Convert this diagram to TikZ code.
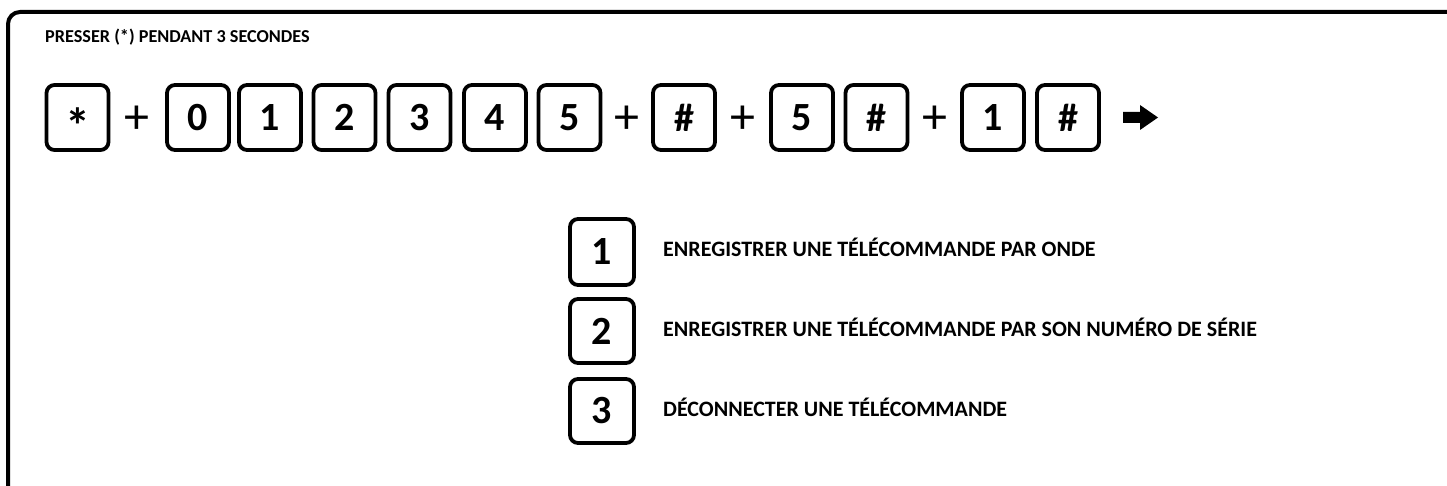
\documentclass[tikz,border=0pt]{standalone}
\usepackage{fontspec}
\setmainfont{Carlito}
\begin{document}
\begin{tikzpicture}[x=1pt,y=-1pt,
  keybox/.style={draw, line width=3.8pt, rounded corners=8pt, minimum width=62pt, minimum height=65pt, inner sep=0pt, font=\fontsize{40}{40}\selectfont\bfseries},
  plussign/.style={inner sep=0pt, font=\fontsize{50}{50}\selectfont},
  label/.style={anchor=base west, inner sep=0pt, font=\fontsize{22}{22}\selectfont\bfseries},
  titletext/.style={anchor=base west, inner sep=0pt, font=\fontsize{18.2}{18.2}\selectfont\bfseries}]
\useasboundingbox (0,0) rectangle (1447,486);
% outer frame
\draw[line width=4pt, rounded corners=12pt] (8,490) -- (8,12) -- (1450,12);
\node[titletext] (title) at (45,43) {PRESSER (*) PENDANT 3 SECONDES};
% key row
\node[keybox] (k1) at (77.5,117.5) {\fontsize{50}{50}\selectfont\smash{\raisebox{-0.52em}{*}}};
\node[plussign] (p1) at (137,119.5) {+};
\node[keybox] (k2) at (198,117.5) {0};
\node[keybox] (k3) at (270,117.5) {1};
\node[keybox] (k4) at (344.5,117.5) {2};
\node[keybox] (k5) at (419.5,117.5) {3};
\node[keybox] (k6) at (495,117.5) {4};
\node[keybox] (k7) at (569.5,117.5) {5};
\node[plussign] (p2) at (627,119.5) {+};
\node[keybox] (k8) at (684,117.5) {\#};
\node[plussign] (p3) at (743,119.5) {+};
\node[keybox] (k9) at (802,117.5) {5};
\node[keybox] (k10) at (876.5,117.5) {\#};
\node[plussign] (p4) at (935,119.5) {+};
\node[keybox] (k11) at (993,117.5) {1};
\node[keybox] (k12) at (1068,117.5) {\#};
% arrow
\fill (1123,112) -- (1140,112) -- (1140,105) -- (1158,117.5) -- (1140,130) -- (1140,123) -- (1123,123) -- cycle;
% menu
\node[keybox, minimum width=64pt, minimum height=66pt] (m1) at (602,252) {1};
\node[keybox, minimum width=64pt, minimum height=64pt] (m2) at (602,331) {2};
\node[keybox, minimum width=64pt, minimum height=64pt] (m3) at (602,411) {3};
\node[label] (t1) at (663,257) {ENREGISTRER UNE TÉLÉCOMMANDE PAR ONDE};
\node[label] (t2) at (663,336.5) {ENREGISTRER UNE TÉLÉCOMMANDE PAR SON NUMÉRO DE SÉRIE};
\node[label] (t3) at (663,416.5) {DÉCONNECTER UNE TÉLÉCOMMANDE};
\end{tikzpicture}
\end{document}
